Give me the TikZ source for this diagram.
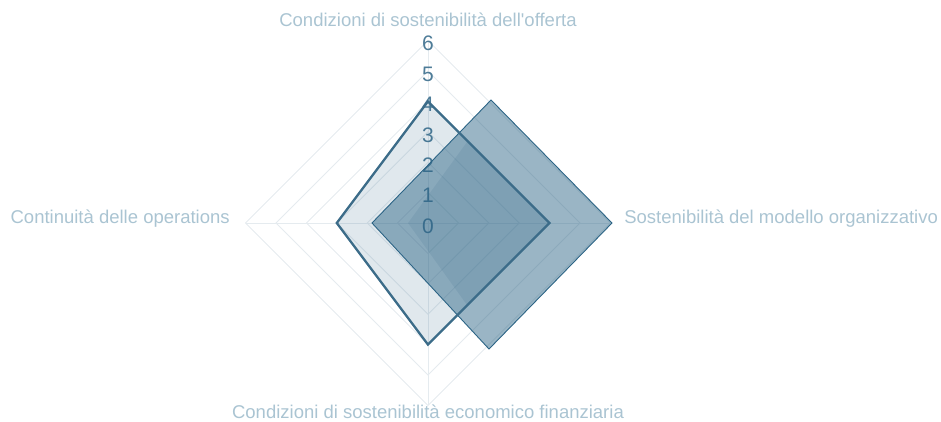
\documentclass[tikz,border=0pt]{standalone}
\usepackage{fontspec}
\newfontfamily\grafico{Liberation Sans}
\usepackage{tikz}
\usetikzlibrary{positioning}
\usepackage{xcolor}
\definecolor{serie}{RGB}{44,100,133}
\definecolor{bordo}{RGB}{60,108,137}
\definecolor{rete}{RGB}{229,235,239}
\definecolor{etich}{RGB}{170,196,210}
\definecolor{tick}{RGB}{78,124,152}

\begin{document}
\begin{tikzpicture}[x=1pt,y=1pt,node distance=30.4pt,semithick]
\useasboundingbox (-428,-198) rectangle (513,223);
\tikzstyle{griglia}=[draw=rete,line width=0.9pt]
\tikzstyle{tacca}=[text=tick,inner sep=0pt,font=\grafico\fontsize{21}{21}\selectfont]
\tikzstyle{asse}=[text=etich,inner sep=0pt,font=\grafico\fontsize{18.5}{18.5}\selectfont]

% rete del radar
\draw[griglia] (0,30.4) -- (30.4,0) -- (0,-30.4) -- (-30.4,0) -- cycle;
\draw[griglia] (0,60.8) -- (60.8,0) -- (0,-60.8) -- (-60.8,0) -- cycle;
\draw[griglia] (0,91.2) -- (91.2,0) -- (0,-91.2) -- (-91.2,0) -- cycle;
\draw[griglia] (0,121.6) -- (121.6,0) -- (0,-121.6) -- (-121.6,0) -- cycle;
\draw[griglia] (0,152) -- (152,0) -- (0,-152) -- (-152,0) -- cycle;
\draw[griglia] (0,182.4) -- (182.4,0) -- (0,-182.4) -- (-182.4,0) -- cycle;
\draw[griglia] (0,182.4) -- (0,-182.4);
\draw[griglia] (-182.4,0) -- (182.4,0);

\node[tacca] (T0) at (0,-3) {0};
\node[tacca] (T1) [above of=T0] {1};
\node[tacca] (T2) [above of=T1] {2};
\node[tacca] (T3) [above of=T2] {3};
\node[tacca] (T4) [above of=T3] {4};
\node[tacca] (T5) [above of=T4] {5};
\node[tacca] (T6) [above of=T5] {6};

% serie chiara
\fill[serie,opacity=.15] (0,121.6) -- (121.6,0) -- (0,-121.6) -- (-91.2,0) -- cycle;
% serie scura
\filldraw[fill=serie,fill opacity=.48,draw=serie,line width=0.9pt] (63,123) -- (184,0) -- (61,-126) -- (-56,0) -- cycle;
\fill[serie,opacity=.12] (-20,0) -- (39,81) -- (121.6,0) -- (39,-82) -- cycle;
\draw[bordo,line width=2.3pt] (0,121.6) -- (121.6,0) -- (0,-121.6) -- (-91.2,0) -- cycle;

\node[asse] (L1) at (0,203) {Condizioni di sostenibilità dell'offerta};
\node[asse,anchor=west] (L2) at (196,4) {Sostenibilità del modello organizzativo};
\node[asse] (L3) at (0,-189) {Condizioni di sostenibilità economico finanziaria};
\node[asse,anchor=east] (L4) at (-198,4) {Continuità delle operations};
\end{tikzpicture}
\end{document}
